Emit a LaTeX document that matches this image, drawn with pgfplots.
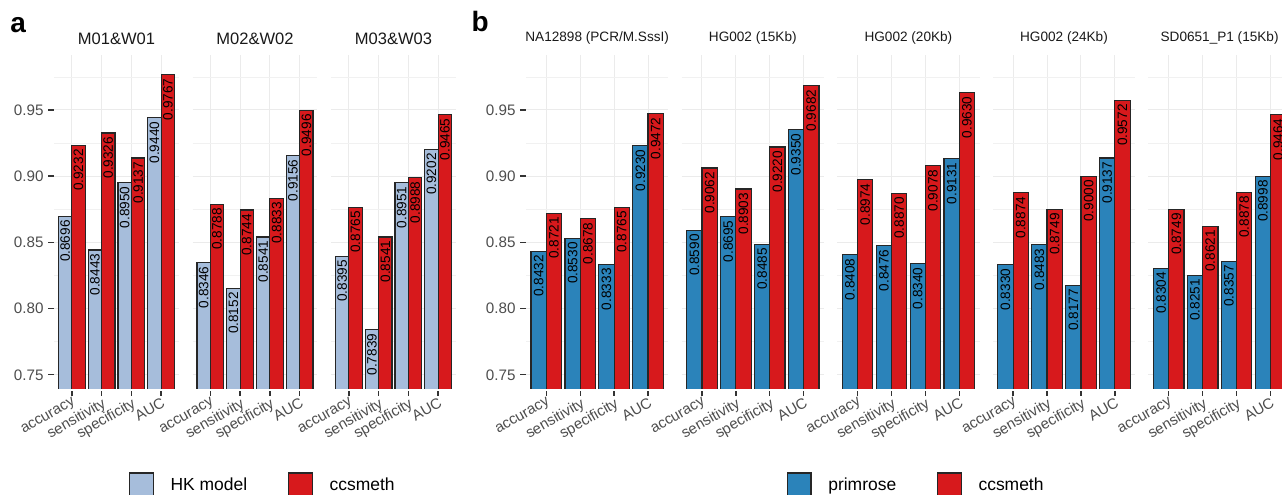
\documentclass[border=0pt]{standalone}
\usepackage{fontspec}
\setmainfont{Liberation Sans}
\usepackage{pgfplots}
\usepackage{pgfplotstable}
\pgfplotsset{compat=1.18}

\definecolor{hkblue}{HTML}{A6BDDB}
\definecolor{prblue}{HTML}{2B83BA}
\definecolor{ccred}{HTML}{D7191C}
\definecolor{gridc}{HTML}{EBEBEB}
\definecolor{tickc}{HTML}{4D4D4D}
\newcommand\fs[1]{\fontsize{#1}{#1}\selectfont}

% panel a: HK model vs ccsmeth
\pgfplotstableread{
x a b
1 0.8696 0.9232
2 0.8443 0.9326
3 0.8950 0.9137
4 0.9440 0.9767
}\aI
\pgfplotstableread{
x a b
1 0.8346 0.8788
2 0.8152 0.8744
3 0.8541 0.8833
4 0.9156 0.9496
}\aII
\pgfplotstableread{
x a b
1 0.8395 0.8765
2 0.7839 0.8541
3 0.8951 0.8988
4 0.9202 0.9465
}\aIII
% panel b: primrose vs ccsmeth
\pgfplotstableread{
x a b
1 0.8432 0.8721
2 0.8530 0.8678
3 0.8333 0.8765
4 0.9230 0.9472
}\bI
\pgfplotstableread{
x a b
1 0.8590 0.9062
2 0.8695 0.8903
3 0.8485 0.9220
4 0.9350 0.9682
}\bII
\pgfplotstableread{
x a b
1 0.8408 0.8974
2 0.8476 0.8870
3 0.8340 0.9078
4 0.9131 0.9630
}\bIII
\pgfplotstableread{
x a b
1 0.8330 0.8874
2 0.8483 0.8749
3 0.8177 0.9000
4 0.9137 0.9572
}\bIV
\pgfplotstableread{
x a b
1 0.8304 0.8749
2 0.8251 0.8621
3 0.8357 0.8878
4 0.8998 0.9464
}\bV

\pgfplotsset{
  facet/.style={
    ybar, bar width=0.45,
    scale only axis, height=251.25pt, anchor=south west,
    xmin=0.4, xmax=4.6, ymin=0.7385, ymax=0.9915,
    axis line style={draw=none},
    tick align=outside, tick pos=left,
    xtick={1,2,3,4}, xticklabels={accuracy,sensitivity,specificity,AUC},
    ytick={0.75,0.80,0.85,0.90,0.95},
    yticklabels={0.75,0.80,0.85,0.90,0.95},
    minor ytick={0.775,0.825,0.875,0.925,0.975},
    grid=both,
    major grid style={gridc, line width=0.8pt},
    minor grid style={gridc!70, line width=0.45pt},
    major tick length=4.3pt, minor tick length=0pt,
    tick style={black!80, line width=1pt},
    xticklabel style={font=\fs{11.2}, text=tickc, rotate=30, anchor=north east, inner sep=0.5pt},
    yticklabel style={font=\fs{11.4}, text=tickc},
    nodes near coords, point meta=explicit symbolic,
    every node near coord/.append style={rotate=90, anchor=east, font=\fs{10.2}, text=black,
      inner xsep=2.5pt, inner ysep=0pt},
    every axis plot post/.append style={legend image code/.code={
      \draw[##1, line width=0.9pt] (0pt,-9pt) rectangle (17.8pt,9pt);
      \path (30.3pt,0pt);}},
    legend columns=2, legend cell align=left,
    % hide the bottom edges of the bars, which stop at the lower limit
    after end axis/.code={\draw[white, line width=1.3pt] (rel axis cs:0,0) -- (rel axis cs:1,0);},
  },
  afacet/.style={facet, width=93.75pt,
    title style={font=\fs{12.4}, text=black!90, anchor=base, at={(0.5,1)}, yshift=2.25pt, inner sep=0pt}},
  bfacet/.style={facet, width=106.8pt,
    title style={font=\fs{10.2}, text=black!90, anchor=base, at={(0.5,1)}, yshift=4.5pt, inner sep=0pt}},
  noy/.style={yticklabels={}, ytick style={draw=none}},
  leg/.style={legend style={at={(#1,-0.2836)}, anchor=west, draw=none, fill=none,
    inner sep=0pt, outer sep=0pt, font=\fs{13.1}, nodes={inner sep=0pt},
    column sep=0pt, /tikz/every even column/.append style={column sep=30.5pt}}},
  hkbar/.style={fill=hkblue, draw=black!85, line width=0.9pt, bar shift=-0.225},
  prbar/.style={fill=prblue, draw=black!85, line width=0.9pt, bar shift=-0.225},
  ccbar/.style={fill=ccred, draw=black!85, line width=0.9pt, bar shift=0.225},
}

\begin{document}
\begin{tikzpicture}
\path[use as bounding box] (0pt,0pt) rectangle (961.5pt,-371.25pt);
\clip (0pt,0pt) rectangle (961.5pt,-371.25pt);

\node[anchor=base west, inner sep=0pt, font=\fs{21}\bfseries] at (7.5pt,-24.2pt) {a};
\node[anchor=base west, inner sep=0pt, font=\fs{21}\bfseries] at (353.5pt,-23.8pt) {b};

% ---- panel a ----
\begin{axis}[afacet, at={(40.5pt,-292.5pt)}, title={M01\&W01}, leg=0.6]
\addplot[hkbar] table[x=x, y=a, meta=a] {\aI};
\addplot[ccbar] table[x=x, y=b, meta=b] {\aI};
\legend{HK model, ccsmeth}
\end{axis}
\begin{axis}[afacet, noy, at={(144.375pt,-292.5pt)}, title={M02\&W02}]
\addplot[hkbar] table[x=x, y=a, meta=a] {\aII};
\addplot[ccbar] table[x=x, y=b, meta=b] {\aII};
\end{axis}
\begin{axis}[afacet, noy, at={(248.25pt,-292.5pt)}, title={M03\&W03}]
\addplot[hkbar] table[x=x, y=a, meta=a] {\aIII};
\addplot[ccbar] table[x=x, y=b, meta=b] {\aIII};
\end{axis}

% ---- panel b ----
\begin{axis}[bfacet, at={(394.5pt,-292.5pt)}, title={NA12898 (PCR/M.SssI)}, leg=1.831]
\addplot[prbar] table[x=x, y=a, meta=a] {\bI};
\addplot[ccbar] table[x=x, y=b, meta=b] {\bI};
\legend{primrose, ccsmeth}
\end{axis}
\begin{axis}[bfacet, noy, at={(511.2pt,-292.5pt)}, title={HG002 (15Kb)}]
\addplot[prbar] table[x=x, y=a, meta=a] {\bII};
\addplot[ccbar] table[x=x, y=b, meta=b] {\bII};
\end{axis}
\begin{axis}[bfacet, noy, at={(627.9pt,-292.5pt)}, title={HG002 (20Kb)}]
\addplot[prbar] table[x=x, y=a, meta=a] {\bIII};
\addplot[ccbar] table[x=x, y=b, meta=b] {\bIII};
\end{axis}
\begin{axis}[bfacet, noy, at={(744.6pt,-292.5pt)}, title={HG002 (24Kb)}]
\addplot[prbar] table[x=x, y=a, meta=a] {\bIV};
\addplot[ccbar] table[x=x, y=b, meta=b] {\bIV};
\end{axis}
\begin{axis}[bfacet, noy, at={(861.3pt,-292.5pt)}, title={SD0651\_P1 (15Kb)}]
\addplot[prbar] table[x=x, y=a, meta=a] {\bV};
\addplot[ccbar] table[x=x, y=b, meta=b] {\bV};
\end{axis}
\end{tikzpicture}
\end{document}
